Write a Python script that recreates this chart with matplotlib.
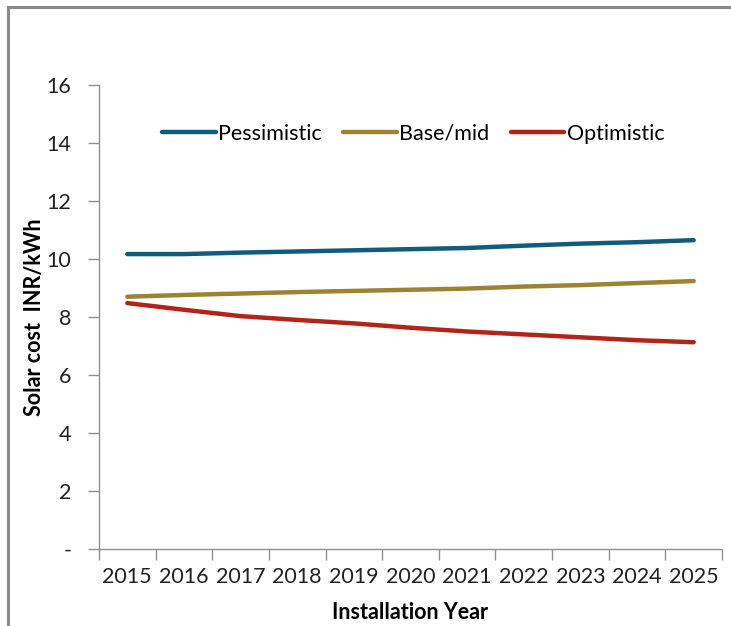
import numpy as np
import matplotlib.pyplot as plt
from matplotlib.lines import Line2D

years = ['2015', '2016', '2017', '2018', '2019', '2020', '2021', '2022', '2023', '2024', '2025']
pessimistic = [10.17, 10.17, 10.22, 10.26, 10.30, 10.34, 10.38, 10.46, 10.53, 10.58, 10.65]
base_mid = [8.70, 8.76, 8.81, 8.86, 8.90, 8.94, 8.98, 9.05, 9.10, 9.17, 9.24]
optimistic = [8.48, 8.25, 8.03, 7.90, 7.78, 7.63, 7.50, 7.40, 7.30, 7.20, 7.13]

series_names = ['Pessimistic', 'Base/mid', 'Optimistic']
series_colors = ['#115b7c', '#9b8333', '#b22419']

plt.rcParams['font.family'] = ['Lato', 'DejaVu Sans']

fig = plt.figure(figsize=(7.31, 6.26), dpi=100)
ax = fig.add_axes([0.1354, 0.123, 0.8523, 0.7412])

x = np.arange(len(years))
for vals, name, col in zip([pessimistic, base_mid, optimistic], series_names, series_colors):
    ax.plot(x, vals, color=col, linewidth=3.2, solid_capstyle='round', label=name)

ax.set_xlim(-0.5, len(years) - 0.5)
ax.set_ylim(0, 16)

# category boundaries get the tick marks, labels sit in the middle
ax.set_xticks(np.arange(-0.5, len(years)))
ax.set_xticklabels([])
ax.set_xticks(x, minor=True)
ax.set_xticklabels(years, minor=True)
ax.tick_params(axis='x', which='major', length=8, width=1, color='#909090', direction='out')
ax.tick_params(axis='x', which='minor', length=0, labelsize=15.5, pad=13, colors='#222222')

yt = np.arange(0, 17, 2)
ax.set_yticks(yt)
ax.set_yticklabels(['-'] + [str(v) for v in yt[1:]])
ax.tick_params(axis='y', length=8, width=1, color='#909090', direction='out',
               labelsize=15.5, pad=12, labelcolor='#222222')

for side in ['top', 'right']:
    ax.spines[side].set_visible(False)
for side in ['left', 'bottom']:
    ax.spines[side].set_color('#909090')
    ax.spines[side].set_linewidth(1)

ax.set_xlabel('Installation Year', fontsize=15.5, fontweight='bold', labelpad=11)
ax.set_ylabel('Solar cost  INR/kWh', fontsize=15.5, fontweight='bold', labelpad=1)

ax.legend(loc='center', bbox_to_anchor=(0.565, 0.786), bbox_transform=fig.transFigure,
          ncol=3, frameon=False, fontsize=15.5, handlelength=2.5, handletextpad=0.1,
          columnspacing=1.0)

# outer chart frame (top and left edges)
fig.add_artist(Line2D([0.0105, 1.0], [0.9895, 0.9895], transform=fig.transFigure,
                      color='#8a8a8a', linewidth=2.2))
fig.add_artist(Line2D([0.0105, 0.0105], [0.0, 0.9895], transform=fig.transFigure,
                      color='#8a8a8a', linewidth=2.2))

fig.savefig('out.png', dpi=100)
